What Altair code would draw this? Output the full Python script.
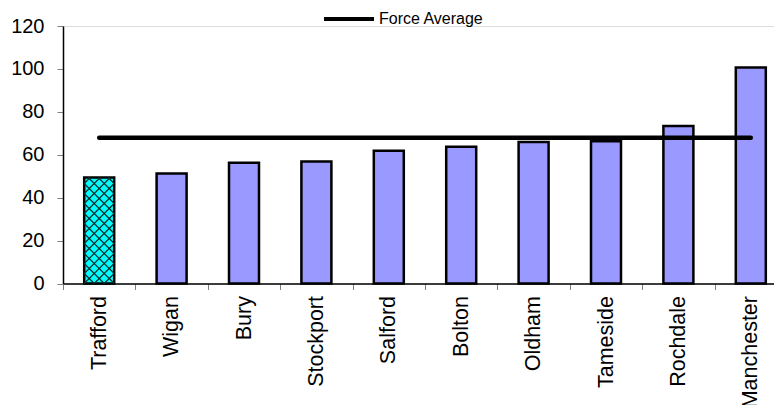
import altair as alt
import pandas as pd
import numpy as np

boroughs = ["Trafford", "Wigan", "Bury", "Stockport", "Salford", "Bolton",
            "Oldham", "Tameside", "Rochdale", "Manchester"]
values = [49.4, 51.3, 56.3, 56.8, 61.9, 63.7, 65.9, 66.3, 73.4, 100.7]
force_average = 67.9
highlight = "Trafford"

df = pd.DataFrame({"borough": boroughs, "value": values})
avg_df = pd.DataFrame({"borough": boroughs, "avg": [force_average] * len(boroughs),
                       "series": ["Force Average"] * len(boroughs)})

# layout constants
PLOT_W = 711
RANGE_W = 724
PLOT_H = 257.5
Y_MAX = 120
BAR_W = 30
n = len(boroughs)
band = RANGE_W / n
ppu_y = PLOT_H / Y_MAX

# cross-hatch pattern lines for the highlighted bar (derived from its geometry)
hi = boroughs.index(highlight)
hv = values[hi]
x0 = (hi + 0.5) * band - BAR_W / 2
x1 = (hi + 0.5) * band + BAR_W / 2
y0 = 0.0
y1 = hv * ppu_y
s = 10.0
segs = []
for c in np.arange(y0 - x1, y1 - x0 + s, s):   # y = x + c
    lo = max(x0, y0 - c)
    up = min(x1, y1 - c)
    if up - lo > 0.5:
        segs.append((lo, lo + c, up, up + c))
for c in np.arange(x0 + y0, x1 + y1 + s, s):   # y = -x + c
    lo = max(x0, c - y1)
    up = min(x1, c - y0)
    if up - lo > 0.5:
        segs.append((lo, c - lo, up, c - up))
hatch_df = pd.DataFrame({
    "hx": [a / band for a, _, _, _ in segs],
    "hy": [b / ppu_y for _, b, _, _ in segs],
    "hx2": [c / band for _, _, c, _ in segs],
    "hy2": [d / ppu_y for _, _, _, d in segs],
})

FONT = "Liberation Sans"

x_band = alt.X("borough:N", sort=boroughs, title=None,
               scale=alt.Scale(range=[0, RANGE_W], paddingInner=0, paddingOuter=0),
               axis=alt.Axis(labelAngle=-90, labelFontSize=21.5, labelFont=FONT,
                             labelColor="black", tickColor="#808080", tickSize=6,
                             labelPadding=6, domainColor="black", domainWidth=1.5,
                             tickBand="extent", labelAlign="right",
                             labelBaseline="middle"))
y_scale = alt.Scale(domain=[0, Y_MAX], nice=False)
y_axis = alt.Axis(values=[0, 20, 40, 60, 80, 100, 120], labelFontSize=20,
                  labelFont=FONT, labelColor="black", tickColor="#808080",
                  tickSize=6, labelPadding=13, domainColor="black",
                  domainWidth=1.5, grid=False)

bars = alt.Chart(df).mark_bar(size=BAR_W, stroke="black", strokeWidth=2.5).encode(
    x=x_band,
    y=alt.Y("value:Q", scale=y_scale, axis=y_axis, title=None),
    fill=alt.condition(alt.datum.borough == highlight, alt.value("#00FFFF"),
                       alt.value("#9999FF")),
)

line = alt.Chart(avg_df).mark_line(strokeWidth=4.5, strokeCap="round").encode(
    x=alt.X("borough:N", sort=boroughs, title=None),
    y=alt.Y("avg:Q", scale=y_scale, title=None),
    color=alt.Color("series:N", scale=alt.Scale(domain=["Force Average"], range=["black"]),
                    legend=alt.Legend(orient="none", legendX=259, legendY=-34,
                                      title=None, symbolType="stroke",
                                      symbolSize=2500, symbolStrokeWidth=4,
                                      labelFontSize=16, labelFont=FONT,
                                      labelColor="black", labelOffset=3,
                                      padding=0)),
)

hatch = alt.Chart(hatch_df).mark_rule(color="#0b2f2f", strokeWidth=1.2).encode(
    x=alt.X("hx:Q", scale=alt.Scale(domain=[0, n], range=[0, RANGE_W], nice=False,
                                    zero=False), axis=None),
    x2="hx2:Q",
    y=alt.Y("hy:Q", scale=y_scale, title=None),
    y2="hy2:Q",
)

main = alt.layer(bars, line)
chart = alt.layer(main, hatch).resolve_scale(x="independent").properties(
    width=PLOT_W, height=PLOT_H,
    autosize=alt.AutoSizeParams(type="none"),
    padding={"left": 63, "top": 26, "right": 0, "bottom": 121.5},
).configure_view(stroke=None).configure(background="white")

chart.save("out.html", embed_options={"renderer": "svg", "actions": False})
